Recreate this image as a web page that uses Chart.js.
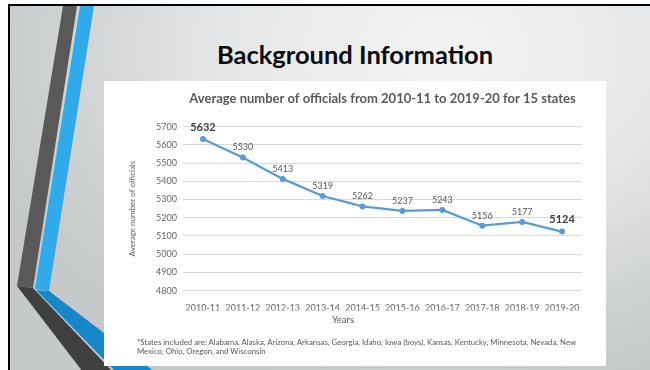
<!DOCTYPE html>
<html>
<head>
<meta charset="utf-8">
<script src="https://cdn.jsdelivr.net/npm/chart.js@4.4.0/dist/chart.umd.min.js"></script>
<style>
  body { margin: 0; width: 650px; height: 370px; overflow: hidden; background: #fff; font-family: Lato, sans-serif; }
  #slide {
    position: absolute; left: 8px; top: 4px; width: 640px; height: 364px;
    border-top: 2px solid #000; border-left: 2px solid #000;
    background: radial-gradient(ellipse 75% 95% at 68% 12%, #f3f3f3 0%, #e6e7e8 45%, #cfd2d3 80%, #c6c9ca 100%);
  }
  #stripes { position: absolute; left: 0; top: 0; }
  #heading {
    position: absolute; left: 104px; top: 39px; width: 502px; line-height: 30px;
    text-align: center; font: bold 25.5px Lato, sans-serif; color: #0d0d0d;
  }
  #panel { position: absolute; left: 104px; top: 81px; width: 502px; height: 285px; background: #fff; }
  #note {
    position: absolute; left: 33px; top: 257px; font: 7.8px Lato, sans-serif;
    line-height: 8.6px; color: #595959; white-space: nowrap;
  }
</style>
</head>
<body>
<div id="slide"></div>
<svg id="stripes" width="650" height="370">
  <polygon points="63,6 77,6 33,288 17,286" fill="#595959"/>
  <polygon points="80,6 94,6 49,291 35,289" fill="#2faaea"/>
  <polygon points="17,286 33,288 113,372 83,372" fill="#3f3f3f"/>
  <polygon points="36,290 49,291 155,372 116,372" fill="#1687c8"/>
</svg>
<div id="heading">Background Information</div>
<div id="panel">
  <canvas id="officials"></canvas>
  <div id="note">*States included are: Alabama, Alaska, Arizona, Arkansas, Georgia, Idaho, Iowa (boys), Kansas, Kentucky, Minnesota, Nevada, New<br>Mexico, Ohio, Oregon, and Wisconsin</div>
</div>
<script>
const seasons = ['2010-11', '2011-12', '2012-13', '2013-14', '2014-15', '2015-16', '2016-17', '2017-18', '2018-19', '2019-20'];
const avgOfficials = [5632, 5530, 5413, 5319, 5262, 5237, 5243, 5156, 5177, 5124];
const yMin = 4800;
const yMax = 5700;
const yStep = 100;
// first and last values get the bigger bold label
const boldLabels = [0, 9];

const valueLabels = {
  id: 'valueLabels',
  afterDatasetsDraw(chart) {
    const ctx = chart.ctx;
    const pts = chart.getDatasetMeta(0).data;
    ctx.save();
    ctx.textAlign = 'center';
    ctx.textBaseline = 'middle';
    pts.forEach((pt, i) => {
      const big = boldLabels.includes(i);
      ctx.font = big ? 'bold 11px Lato' : '9px Lato';
      ctx.fillStyle = big ? '#404040' : '#595959';
      ctx.fillText(String(avgOfficials[i]), pt.x, pt.y - (big ? 12 : 10));
    });
    ctx.restore();
  }
};

new Chart(document.getElementById('officials'), {
  type: 'line',
  data: {
    labels: seasons,
    datasets: [{
      data: avgOfficials,
      borderColor: '#5b9bd5',
      backgroundColor: '#5b9bd5',
      borderWidth: 2.25,
      pointRadius: 3,
      pointBorderWidth: 0,
      tension: 0
    }]
  },
  options: {
    responsive: true,
    maintainAspectRatio: false,
    animation: false,
    layout: { padding: { top: 0, left: 0, right: 24, bottom: 40 } },
    plugins: {
      legend: { display: false },
      tooltip: { enabled: false },
      title: {
        display: true,
        text: 'Average number of officials from 2010-11 to 2019-20 for 15 states',
        fullSize: false,
        color: '#595959',
        font: { family: 'Lato', size: 13, weight: 'bold' },
        padding: { top: 10, bottom: 20 }
      },
      subtitle: {
        display: true,
        position: 'bottom',
        text: 'Years',
        color: '#595959',
        font: { family: 'Lato', size: 9.5 },
        padding: { top: 4, bottom: 0 }
      }
    },
    scales: {
      x: {
        offset: true,
        grid: { display: false },
        border: { display: false },
        ticks: { color: '#666', font: { family: 'Lato', size: 9 }, padding: 4, maxRotation: 0 },
        afterFit(scale) { scale.height = 20; }
      },
      y: {
        min: yMin,
        max: yMax,
        grid: { color: '#d9d9d9', drawTicks: false },
        border: { display: false },
        ticks: {
          stepSize: yStep,
          color: '#666',
          font: { family: 'Lato', size: 9 },
          padding: 6,
          callback: v => String(v)
        },
        title: {
          display: true,
          text: 'Average number of officials',
          color: '#666',
          font: { family: 'Lato', size: 8 },
          padding: { top: 24, bottom: 0 }
        },
        afterFit(scale) { scale.width = 79; }
      }
    }
  },
  plugins: [valueLabels]
});
</script>
</body>
</html>
